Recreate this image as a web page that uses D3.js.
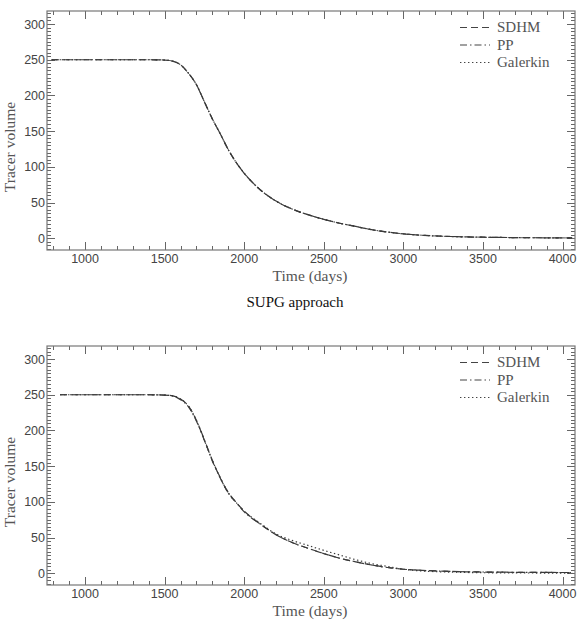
<!DOCTYPE html>
<html>
<head>
<meta charset="utf-8">
<script src="https://cdn.jsdelivr.net/npm/d3@7"></script>
<style>
  body { margin: 0; background: #fff; }
  svg { display: block; }
  .serif { font-family: 'Liberation Serif', 'DejaVu Serif', 'Times New Roman', serif; }
  .sans { font-family: 'Liberation Sans', 'DejaVu Sans', Arial, sans-serif; }
</style>
</head>
<body>
<svg id="chart" width="582" height="628"></svg>
<script>
// time (days) samples
const topTime = [790, 1000, 1200, 1400, 1500, 1550, 1600, 1650, 1700, 1750, 1800, 1850, 1900, 1950, 2000, 2100, 2200, 2300, 2400, 2500, 2600, 2700, 2800, 2900, 3000, 3100, 3200, 3300, 3400, 3500, 3600, 3700, 3800, 3900, 4000, 4060]
const topSDHM = [250, 250, 250, 250, 249.6, 248, 243, 231, 215, 191, 167, 146, 124, 106, 91, 68, 52, 41, 33, 26.5, 21, 16.5, 12, 8.6, 6.1, 4.4, 3.2, 2.4, 1.8, 1.4, 1.1, 0.9, 0.7, 0.6, 0.5, 0.4]
const topPP = [250, 250, 250, 250, 249.6, 248, 243, 231, 215, 191, 167, 146, 124, 106, 91, 68, 52, 41, 33, 26.5, 21, 16.5, 12, 8.6, 6.1, 4.4, 3.2, 2.4, 1.8, 1.4, 1.1, 0.9, 0.7, 0.6, 0.5, 0.4]
const topGalerkin = [250, 250, 250, 250, 249.6, 248, 243, 231, 215, 191, 167, 146, 124, 106, 91, 68, 52, 41, 33, 26.5, 21, 16.5, 12, 8.6, 6.1, 4.4, 3.2, 2.4, 1.8, 1.4, 1.1, 0.9, 0.7, 0.6, 0.5, 0.4]

const botTime = [843, 1000, 1200, 1400, 1500, 1550, 1600, 1650, 1700, 1750, 1800, 1850, 1900, 1950, 2000, 2100, 2200, 2300, 2400, 2500, 2600, 2700, 2800, 2900, 3000, 3100, 3200, 3300, 3400, 3500, 3600, 3700, 3800, 3900, 4000, 4060]
const botSDHM = [250, 250, 250, 250, 249.5, 248.5, 244, 234, 214, 186, 158, 133, 113, 99, 87, 69, 54, 43, 35, 27.5, 21, 16, 11.5, 8, 5.6, 4.2, 3.2, 2.5, 2, 1.7, 1.5, 1.3, 1.2, 1.1, 1, 1]
const botPP = [250, 250, 250, 250, 249.5, 248.5, 243, 233, 213, 187, 157, 134, 112, 99, 86, 69, 54, 43, 35, 27.5, 21, 16, 11.5, 8, 5.6, 4.2, 3.2, 2.5, 2, 1.7, 1.5, 1.3, 1.2, 1.1, 1, 1]
const botGalerkin = [250, 250, 250, 250, 249.5, 248.5, 244, 234, 214, 186, 158, 133, 113, 99, 87, 70, 55, 46, 39, 32, 25.5, 19, 13.5, 9.5, 5.6, 3.4, 2.2, 1.5, 1, 0.7, 0.5, 0.4, 0.3, 0.2, 0.2, 0.2]

const seriesNames = ['SDHM', 'PP', 'Galerkin']
const seriesDash = ['7,4', '7,3,1.5,3', '1.4,2.6']

const xTicks = [1000, 1500, 2000, 2500, 3000, 3500, 4000]
const yTicks = [0, 50, 100, 150, 200, 250, 300]

const svg = d3.select('#chart')

const left = 47, right = 575

function drawPanel(top, bottom, time, values) {
    const g = svg.append('g')

    const x = d3.scaleLinear().domain([761, 4078]).range([left, right])
    const y = d3.scaleLinear().domain([-16.5, 318.3]).range([bottom, top])

    // minor + major ticks on all four sides, pointing inward
    const xMinor = d3.range(800, 4078, 100)
    const yMinor = d3.range(-15, 318, 5)

    const tickCol = '#666'

    g.selectAll('.xt').data(xMinor).enter().append('path')
        .attr('d', d => {
            const len = d % 500 === 0 ? 8 : 4
            const px = Math.round(x(d)) + 0.5
            return `M${px},${bottom}V${bottom - len}M${px},${top}V${top + len}`
        })
        .attr('stroke', tickCol).attr('stroke-width', 1)

    g.selectAll('.yt').data(yMinor).enter().append('path')
        .attr('d', d => {
            const len = d % 50 === 0 ? 8 : 4
            const py = Math.round(y(d)) + 0.5
            return `M${left},${py}H${left + len}M${right},${py}H${right - len}`
        })
        .attr('stroke', tickCol).attr('stroke-width', 1)

    g.append('rect')
        .attr('x', left).attr('y', top)
        .attr('width', right - left).attr('height', bottom - top)
        .attr('fill', 'none').attr('stroke', '#777').attr('stroke-width', 1.2)

    g.selectAll('.xl').data(xTicks).enter().append('text')
        .attr('class', 'sans')
        .attr('x', d => x(d)).attr('y', bottom + 13)
        .attr('text-anchor', 'middle')
        .attr('font-size', 12.5).attr('fill', '#444')
        .text(d => d)

    g.selectAll('.yl').data(yTicks).enter().append('text')
        .attr('class', 'sans')
        .attr('x', left - 2).attr('y', d => y(d) + 4.5)
        .attr('text-anchor', 'end')
        .attr('font-size', 12.5).attr('fill', '#444')
        .text(d => d)

    g.append('text')
        .attr('class', 'serif')
        .attr('x', 310).attr('y', bottom + 31)
        .attr('text-anchor', 'middle')
        .attr('font-size', 15.5).attr('fill', '#555')
        .text('Time (days)')

    g.append('text')
        .attr('class', 'serif')
        .attr('transform', `translate(15,${top + 136}) rotate(-90)`)
        .attr('text-anchor', 'middle')
        .attr('font-size', 15.5).attr('fill', '#555')
        .text('Tracer volume')

    const line = d3.line()
        .x((d, i) => x(time[i]))
        .y(d => y(d))
        .curve(d3.curveMonotoneX)

    values.forEach((vals, i) => {
        g.append('path')
            .attr('d', line(vals))
            .attr('fill', 'none')
            .attr('stroke', '#3a3a3a')
            .attr('stroke-width', 1.2)
            .attr('stroke-dasharray', seriesDash[i])
    })

    // legend
    seriesNames.forEach((name, i) => {
        const ly = top + 21 + i * 17.5
        g.append('line')
            .attr('x1', 460).attr('x2', 490)
            .attr('y1', ly - 4.5).attr('y2', ly - 4.5)
            .attr('stroke', '#444').attr('stroke-width', 1.1)
            .attr('stroke-dasharray', seriesDash[i])
        g.append('text')
            .attr('class', 'serif')
            .attr('x', 497).attr('y', ly)
            .attr('font-size', 15).attr('fill', '#555')
            .text(name)
    })
}

drawPanel(11, 250, topTime, [topSDHM, topPP, topGalerkin])

svg.append('text')
    .attr('class', 'serif')
    .attr('x', 295).attr('y', 307)
    .attr('text-anchor', 'middle')
    .attr('font-size', 15).attr('fill', '#111')
    .text('SUPG approach')

drawPanel(346, 585, botTime, [botSDHM, botPP, botGalerkin])
</script>
</body>
</html>
